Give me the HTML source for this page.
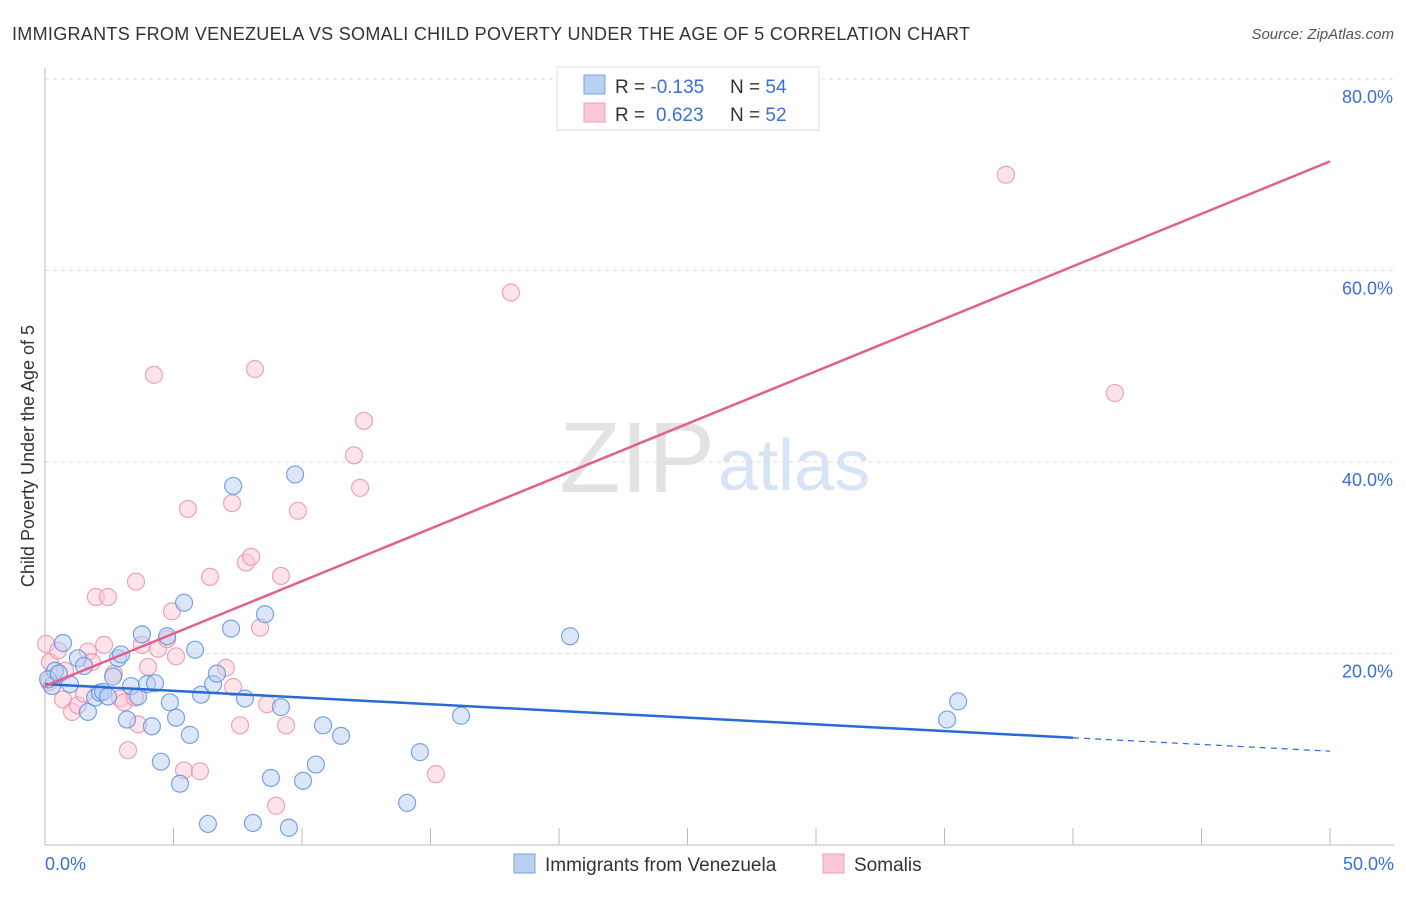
<!DOCTYPE html>
<html><head><meta charset="utf-8"><style>
body{margin:0;background:#fff;font-family:"Liberation Sans",sans-serif;}
svg text{font-family:"Liberation Sans",sans-serif;}
</style></head><body>
<svg id="chart" width="1406" height="892" xmlns="http://www.w3.org/2000/svg">
<text x="12" y="40" font-size="18" fill="#333" textLength="958">IMMIGRANTS FROM VENEZUELA VS SOMALI CHILD POVERTY UNDER THE AGE OF 5 CORRELATION CHART</text>
<text x="1394" y="39" font-size="15" fill="#555" font-style="italic" text-anchor="end">Source: ZipAtlas.com</text>
<text x="715" y="492" font-size="100" fill="#e3e3e3" text-anchor="end" font-family="Liberation Serif">ZIP</text>
<text x="718" y="490" font-size="72" fill="#d6e4f5">atlas</text>
<g id="grid"></g>
<g id="axes"></g>
<g id="pts"></g>
<g id="lines"></g>
<text transform="translate(34,456) rotate(-90)" font-size="18" fill="#333" text-anchor="middle">Child Poverty Under the Age of 5</text>
<text x="45" y="870" font-size="18" fill="#3a6fd8">0.0%</text>
<text x="1394" y="870" font-size="18" fill="#3a6fd8" text-anchor="end">50.0%</text>
<g>
<rect x="557" y="67" width="262" height="63" fill="#fff" stroke="#ddd"/>
<rect x="584" y="75" width="21" height="19" fill="#b8d0f2" stroke="#7aa4e0"/>
<rect x="584" y="103" width="21" height="19" fill="#fbc8d6" stroke="#eba0b6"/>
<text x="615" y="93" font-size="19" fill="#333">R = <tspan fill="#3a6fd8">-0.135</tspan><tspan x="730">N = </tspan><tspan fill="#3a6fd8">54</tspan></text>
<text x="615" y="121" font-size="19" fill="#333">R = <tspan fill="#3a6fd8" x="656">0.623</tspan><tspan x="730">N = </tspan><tspan fill="#3a6fd8">52</tspan></text>
</g>
<g>
<rect x="514" y="854" width="21" height="19" fill="#b8d0f2" stroke="#7aa4e0"/>
<text x="545" y="871" font-size="19" fill="#333">Immigrants from Venezuela</text>
<rect x="823" y="854" width="21" height="19" fill="#fbc8d6" stroke="#eba0b6"/>
<text x="854" y="871" font-size="19" fill="#333">Somalis</text>
</g>
</svg>
<script>
const yTicks=[20,40,60,80];
const xTicks=[0,5,10,15,20,25,30,35,40,45,50];
const blueX=[0.27,0.7,0.39,0.97,1.28,1.52,1.67,1.95,2.14,2.26,2.45,2.65,2.84,2.96,3.19,3.35,3.62,3.77,3.97,4.16,4.28,4.51,4.75,4.86,5.1,5.25,5.41,5.64,5.84,6.07,6.34,6.54,6.69,7.24,7.32,7.78,8.09,8.56,8.79,9.18,9.49,9.73,10.04,10.54,10.82,11.52,14.09,14.59,16.19,20.43,35.1,35.53,0.12,0.54];
const blueY=[16.6,21.1,18.2,16.8,19.5,18.7,13.9,15.4,15.9,16.0,15.5,17.6,19.5,19.9,13.1,16.6,15.5,22.0,16.8,12.4,16.9,8.7,21.8,14.9,13.3,6.4,25.3,11.5,20.4,15.7,2.2,16.8,17.9,22.6,37.5,15.3,2.3,24.1,7.0,14.4,1.8,38.7,6.7,8.4,12.5,11.4,4.4,9.7,13.5,21.8,13.1,15.0,17.3,17.9];
const pinkX=[0.04,0.19,0.51,0.78,0.7,1.05,1.28,1.52,1.67,1.83,1.98,2.3,2.45,2.68,2.92,3.07,3.23,3.54,3.62,3.77,4.01,4.24,4.4,4.75,4.94,5.1,5.41,5.56,6.03,6.42,7.04,7.28,7.32,7.59,7.82,8.02,8.17,8.37,8.64,8.99,9.18,9.38,9.84,12.02,12.26,12.41,15.21,18.13,37.39,41.63,0.16,3.5];
const pinkY=[21.0,19.1,20.3,18.2,15.2,13.9,14.6,15.8,20.2,19.1,25.9,20.9,25.9,17.9,15.3,14.9,9.9,27.5,12.6,20.9,18.6,49.1,20.5,21.5,24.4,19.7,7.8,35.1,7.7,28.0,18.5,35.7,16.5,12.5,29.5,30.1,49.7,22.7,14.7,4.1,28.1,12.5,34.9,40.7,37.3,44.3,7.4,57.7,70.0,47.2,17.0,15.4];
const blueTrend=[0,40,50],blueTrendY=[16.8,11.2,9.8];
const pinkTrendX=[0,50],pinkTrendY=[16.6,71.4];
const X0=45,X1=1330,Y0=845,PY=191.5/20;
const sx=v=>X0+(v/50)*(X1-X0), sy=v=>Y0-v*PY;
const NS="http://www.w3.org/2000/svg";
function mk(tag,attrs,parent){const e=document.createElementNS(NS,tag);for(const k in attrs)e.setAttribute(k,attrs[k]);parent.appendChild(e);return e;}
const grid=document.getElementById('grid'),axes=document.getElementById('axes'),pts=document.getElementById('pts'),lines=document.getElementById('lines');
yTicks.forEach(t=>{
 const l=mk('line',{x1:X0,x2:1394,y1:sy(t),y2:sy(t),stroke:'#ddd','stroke-dasharray':'4,4'},grid);
 
 
 const tx=mk('text',{x:1393,y:sy(t)+24,'font-size':18,fill:'#3a6fd8','text-anchor':'end'},grid);
 tx.textContent=t.toFixed(1)+'%';
 
 
});
let a=mk('line',{x1:X0,x2:X0,y1:68,y2:Y0,stroke:'#bbb'},axes);


a=mk('line',{x1:X0,x2:1394,y1:Y0,y2:Y0,stroke:'#bbb'},axes);


xTicks.forEach(t=>{
 const l=mk('line',{x1:sx(t),x2:sx(t),y1:Y0-17,y2:Y0,stroke:'#bbb'},axes);
 
 
});
function dots(xs,ys,fill,stroke,name){
 xs.forEach((x,i)=>{
  const c=mk('circle',{cx:sx(x),cy:sy(ys[i]),r:8.5,fill:fill,stroke:stroke,'stroke-width':1.2,'fill-opacity':0.5,'stroke-opacity':0.8},pts);
  
  
 });
}
dots(pinkX,pinkY,'#fbc8d6','#e88fab','somali-point');
dots(blueX,blueY,'#b8d0f2','#5b8fdc','venezuela-point');
let t=mk('line',{x1:sx(blueTrend[0]),y1:sy(blueTrendY[0]),x2:sx(blueTrend[1]),y2:sy(blueTrendY[1]),stroke:'#2a6ad6','stroke-width':2.5},lines);


t=mk('line',{x1:sx(blueTrend[1]),y1:sy(blueTrendY[1]),x2:sx(blueTrend[2]),y2:sy(blueTrendY[2]),stroke:'#2a6ad6','stroke-width':1.2,'stroke-dasharray':'6,5'},lines);


t=mk('line',{x1:sx(pinkTrendX[0]),y1:sy(pinkTrendY[0]),x2:sx(pinkTrendX[1]),y2:sy(pinkTrendY[1]),stroke:'#e3608c','stroke-width':2.5},lines);


</script>
</body></html>
